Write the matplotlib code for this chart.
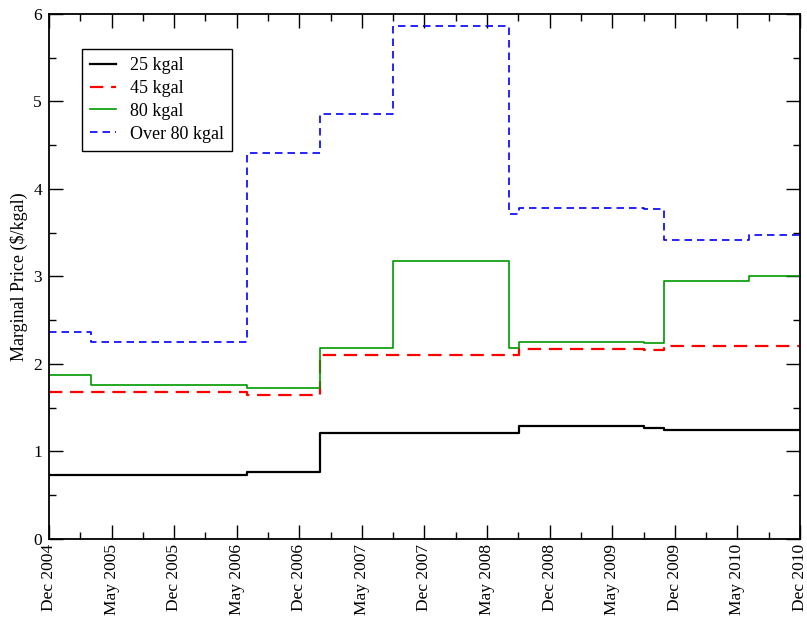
import matplotlib
matplotlib.use("Agg")
import matplotlib.pyplot as plt
from matplotlib.ticker import MultipleLocator

plt.rcParams['font.family'] = ['Liberation Serif', 'DejaVu Serif']
plt.rcParams['mathtext.fontset'] = 'stix'

# tick labels (evenly spaced positions 0..12)
tick_labels = ['Dec 2004', 'May 2005', 'Dec 2005', 'May 2006', 'Dec 2006',
               'May 2007', 'Dec 2007', 'May 2008', 'Dec 2008', 'May 2009',
               'Dec 2009', 'May 2010', 'Dec 2010']

# start of each rate period, in tick-interval units
breaks = [0, 0.67, 3.165, 4.33, 5.50, 7.35, 7.51, 9.50, 9.83, 11.18]
end = 12

# marginal price ($/kgal) for each period
p25 = [0.73, 0.73, 0.76, 1.21, 1.21, 1.21, 1.29, 1.27, 1.25, 1.25]
p45 = [1.68, 1.68, 1.65, 2.10, 2.10, 2.10, 2.17, 2.16, 2.20, 2.20]
p80 = [1.87, 1.76, 1.73, 2.18, 3.18, 2.18, 2.25, 2.24, 2.95, 3.00]
pover = [2.36, 2.25, 4.41, 4.86, 5.86, 3.71, 3.78, 3.77, 3.42, 3.47]

fig = plt.figure(figsize=(8.07, 6.17), dpi=100)
ax = fig.add_axes([0.0607, 0.1265, 0.9306, 0.8509])

x = breaks + [end]
ax.step(x, p25 + [p25[-1]], where='post', color='black', lw=1.6, label='25 kgal')
ax.step(x, p45 + [p45[-1]], where='post', color='red', lw=1.6,
        dashes=(6, 3.5), label='45 kgal')
ax.step(x, p80 + [p80[-1]], where='post', color='#009900', lw=1.2, label='80 kgal')
ax.step(x, pover + [pover[-1]], where='post', color='blue', lw=1.2,
        dashes=(4.5, 3), label='Over 80 kgal')

ax.set_xlim(0, 12)
ax.set_ylim(0, 6)
ax.set_xticks(range(len(tick_labels)))
ax.set_xticklabels(tick_labels, rotation=90, fontsize=12.5)
ax.xaxis.set_minor_locator(MultipleLocator(0.5))
ax.yaxis.set_major_locator(MultipleLocator(1))
ax.yaxis.set_minor_locator(MultipleLocator(0.5))
ax.tick_params(which='both', direction='in', top=True, right=True, labelsize=12.5)
ax.tick_params(axis='y', pad=5)
ax.tick_params(which='major', length=10, width=1)
ax.tick_params(which='minor', length=5, width=1)
for s in ax.spines.values():
    s.set_linewidth(1.3)

ax.set_ylabel('Marginal Price (\\$/kgal)', fontsize=13, labelpad=4)

leg = ax.legend(loc='upper left', bbox_to_anchor=(0.044, 0.933), fontsize=13,
                fancybox=False, framealpha=1, edgecolor='black',
                handlelength=1.45, handletextpad=0.75, labelspacing=0.32,
                borderpad=0.45, borderaxespad=0)
leg.get_frame().set_linewidth(1.0)

fig.savefig('out.png', dpi=100)
